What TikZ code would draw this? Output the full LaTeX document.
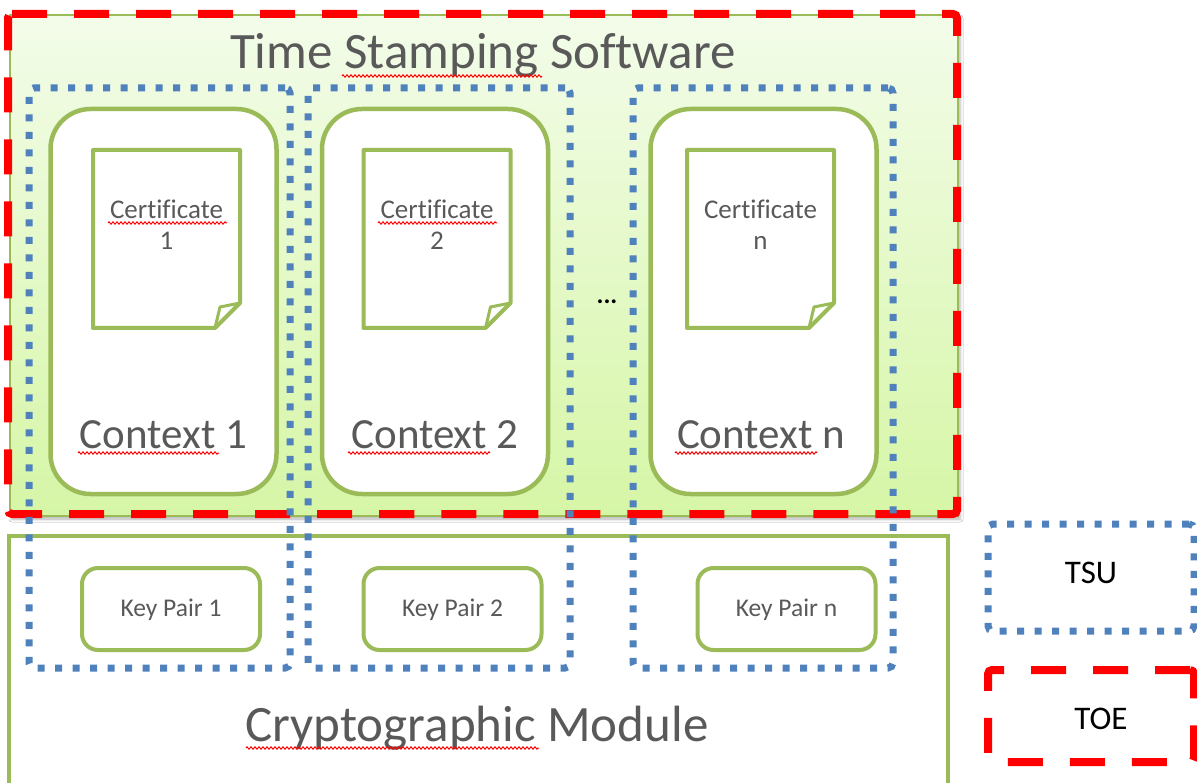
\documentclass[tikz,border=0pt]{standalone}
\usepackage{fontspec}
\setmainfont{Carlito}[Ligatures=NoCommon]
\usetikzlibrary{shadows.blur,decorations.pathmorphing}
\definecolor{grn}{HTML}{9BBB59}
\definecolor{blu}{HTML}{4F81BD}
\definecolor{txt}{HTML}{595959}
\definecolor{gtop}{RGB}{243,252,234}
\definecolor{gbot}{RGB}{214,246,166}
\begin{document}
\begin{tikzpicture}[x=1pt,y=-1pt,
  box/.style={rectangle, inner sep=0pt, outer sep=0pt},
  tsu/.style={box, draw=blu, line width=7pt, dash pattern=on 7pt off 10.5pt, rounded corners=5pt},
  toe/.style={draw=red, line width=8pt, dash pattern=on 35pt off 27pt, rounded corners=4pt},
  ctxbox/.style={box, draw=grn, fill=white, line width=4.5pt, rounded corners=40pt, minimum width=226pt, minimum height=385pt},
  keybox/.style={box, draw=grn, fill=white, line width=4pt, rounded corners=16pt, minimum width=178pt, minimum height=82pt},
  certbox/.style={box, minimum width=147pt, minimum height=178pt},
  certline/.style={draw=grn, fill=white, line width=4pt, line join=round},
  big/.style={font=\fontsize{51}{60}\selectfont, text=txt, inner sep=0pt},
  ctxt/.style={font=\fontsize{43}{50}\selectfont, text=txt, inner sep=0pt},
  small/.style={font=\fontsize{27}{31}\selectfont, text=txt, inner sep=0pt},
  keyt/.style={font=\fontsize{25.5}{30}\selectfont, text=txt, inner sep=0pt},
  leg/.style={font=\fontsize{33}{38}\selectfont, text=black, inner sep=0pt},
  squig/.style={draw=red, line width=1pt, decorate, decoration={zigzag, segment length=4pt, amplitude=1.2pt}}
]
\useasboundingbox (0,0) rectangle (1197,783);
\fill[white] (0,0) rectangle (1197,783);

% Time stamping software
\node[box, draw=grn, line width=1.5pt, top color=gtop, bottom color=gbot,
      blur shadow={shadow xshift=2pt, shadow yshift=-3pt, shadow blur radius=3pt, shadow opacity=30},
      minimum width=948pt, minimum height=501pt] (sw) at (484,265.5) {};

% Cryptographic module
\node[box, draw=grn, fill=white, line width=3.5pt, minimum width=939pt, minimum height=254pt] (cm) at (478.5,663) {};

% TOE outline
\coordinate (r1) at (8,14);
\coordinate (r2) at (957,14);
\coordinate (r3) at (957,514);
\coordinate (r4) at (8,514);
\draw[toe] (r1) -- (r2) -- (r3) -- (r4) -- cycle;

% contexts
\node[ctxbox] (c1) at (163.5,301.5) {};
\node[ctxbox] (c2) at (435,301.5) {};
\node[ctxbox] (c3) at (763.5,301.5) {};

% certificates
\foreach \n/\x in {1/166.5, 2/437, 3/760.5}{
  \node[certbox] (cert\n) at (\x,239) {};
  \draw[certline] (cert\n.north west) -- (cert\n.north east) -- ([yshift=25pt]cert\n.south east)
     -- ([xshift=-25pt]cert\n.south east) -- (cert\n.south west) -- cycle;
  \draw[grn, line width=3pt, line join=round] ([xshift=-25pt]cert\n.south east) -- ([xshift=-20pt,yshift=21pt]cert\n.south east) -- ([yshift=25pt]cert\n.south east);
}

% key pairs
\node[keybox] (k1) at (171,609) {};
\node[keybox] (k2) at (452.5,609) {};
\node[keybox] (k3) at (786.5,609) {};

% TSU outlines
\node[tsu, minimum width=261pt, minimum height=580pt] (t1) at (159.5,378) {};
\node[tsu, minimum width=262pt, minimum height=580pt] (t2) at (439,378) {};
\node[tsu, minimum width=260pt, minimum height=580pt] (t3) at (763,378) {};

% texts
\node[big, anchor=base] (title) at (483,69) {Time Stamping Software};
\node[big, anchor=base] (cmt) at (477,741) {Cryptographic Module};
\node[ctxt, anchor=base] (c1t) at (163.5,449) {Context 1};
\node[ctxt, anchor=base] (c2t) at (435,449) {Context 2};
\node[ctxt, anchor=base] (c3t) at (761,449) {Context n};
\node[small, anchor=base] (cert1a) at (166.5,219) {Certificate};
\node[small, anchor=base] (cert1b) at (166.5,250) {1};
\node[small, anchor=base] (cert2a) at (437,219) {Certificate};
\node[small, anchor=base] (cert2b) at (437,250) {2};
\node[small, anchor=base] (cert3a) at (760.5,219) {Certificate};
\node[small, anchor=base] (cert3b) at (760.5,250) {n};
\node[keyt, anchor=base] (k1t) at (171,616) {Key Pair 1};
\node[keyt, anchor=base] (k2t) at (452.5,616) {Key Pair 2};
\node[keyt, anchor=base] (k3t) at (786.5,616) {Key Pair n};
\node[font=\fontsize{26}{31}\selectfont\bfseries, inner sep=0pt, anchor=base] (dots) at (607,304) {...};

% spell-check squiggles
\draw[squig] (342,76) -- (542,76);
\draw[squig] (108,223) -- (227,223);
\draw[squig] (378,223) -- (497,223);
\draw[squig] (78,453) -- (219,453);
\draw[squig] (348,453) -- (490,453);
\draw[squig] (675,453) -- (817,453);
\draw[squig] (246,748) -- (539,748);

% legend
\node[tsu, minimum width=206pt, minimum height=107pt] (ltsu) at (1091,577.5) {};
\node[leg, anchor=base] (ltsut) at (1091,583) {TSU};
\node[box, toe, minimum width=206pt, minimum height=92pt] (ltoe) at (1091,716) {};
\node[leg, anchor=base] (ltoet) at (1101,729) {TOE};
\end{tikzpicture}
\end{document}
